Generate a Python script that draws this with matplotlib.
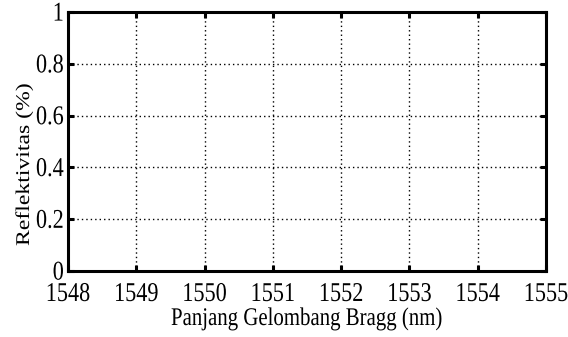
import matplotlib
matplotlib.use("Agg")
import matplotlib.pyplot as plt
from matplotlib import patheffects
from matplotlib.transforms import Affine2D

plt.rcParams["font.family"] = "Liberation Serif"

x_ticks = [1548, 1549, 1550, 1551, 1552, 1553, 1554, 1555]
y_ticks = [0, 0.2, 0.4, 0.6, 0.8, 1]
y_labels = ["0", "0.2", "0.4", "0.6", "0.8", "1"]


class VStretch(patheffects.AbstractPathEffect):
    """Stretch glyphs vertically on screen (the scanned original is taller)."""

    def __init__(self, s=1.22, pivot=0.0):
        super().__init__()
        self.s = s
        self.pivot = pivot  # in text-path units, 100 = 1 em

    def draw_path(self, renderer, gc, tpath, affine, rgbFace=None):
        x0, y0 = affine.transform((0, self.pivot))
        t = affine + Affine2D().translate(-x0, -y0).scale(1, self.s).translate(x0, y0)
        renderer.draw_path(gc, tpath, t, rgbFace)


fig = plt.figure(figsize=(5.68, 3.37), dpi=100)
ax = fig.add_axes([68 / 568, 1 - 271 / 337, (546 - 68) / 568, (271 - 12) / 337])

ax.set_xlim(1548, 1555)
ax.set_ylim(0, 1)
ax.set_xticks(x_ticks)
ax.set_xticklabels([str(v) for v in x_ticks])
ax.set_yticks(y_ticks)
ax.set_yticklabels(y_labels)
ax.grid(True, color="black", linestyle=(0, (1, 2.2)), linewidth=1.0)
ax.tick_params(direction="in", length=4, width=2.2, labelsize=16,
               top=True, right=True)
ax.tick_params(axis="x", pad=11.5)
ax.tick_params(axis="y", pad=3)
for s in ax.spines.values():
    s.set_linewidth(2.2)

for lab in ax.get_xticklabels():
    lab.set_path_effects([VStretch(1.22, 0)])
for lab in ax.get_yticklabels():
    lab.set_path_effects([VStretch(1.22, 33)])

ax.set_xlabel("Panjang Gelombang Bragg (nm)", fontsize=15, va="baseline")
ax.xaxis.set_label_coords(0.5, (271 - 325) / 259)
ax.xaxis.label.set_path_effects([VStretch(1.22, 0)])

ax.set_ylabel("Reflektivitas (%)", fontsize=14, va="baseline")
ax.yaxis.set_label_coords((29 - 68) / 478, (271 - 179) / 259)
ax.yaxis.label.set_path_effects([VStretch(1.22, 0)])

fig.savefig("out.png", dpi=100)
